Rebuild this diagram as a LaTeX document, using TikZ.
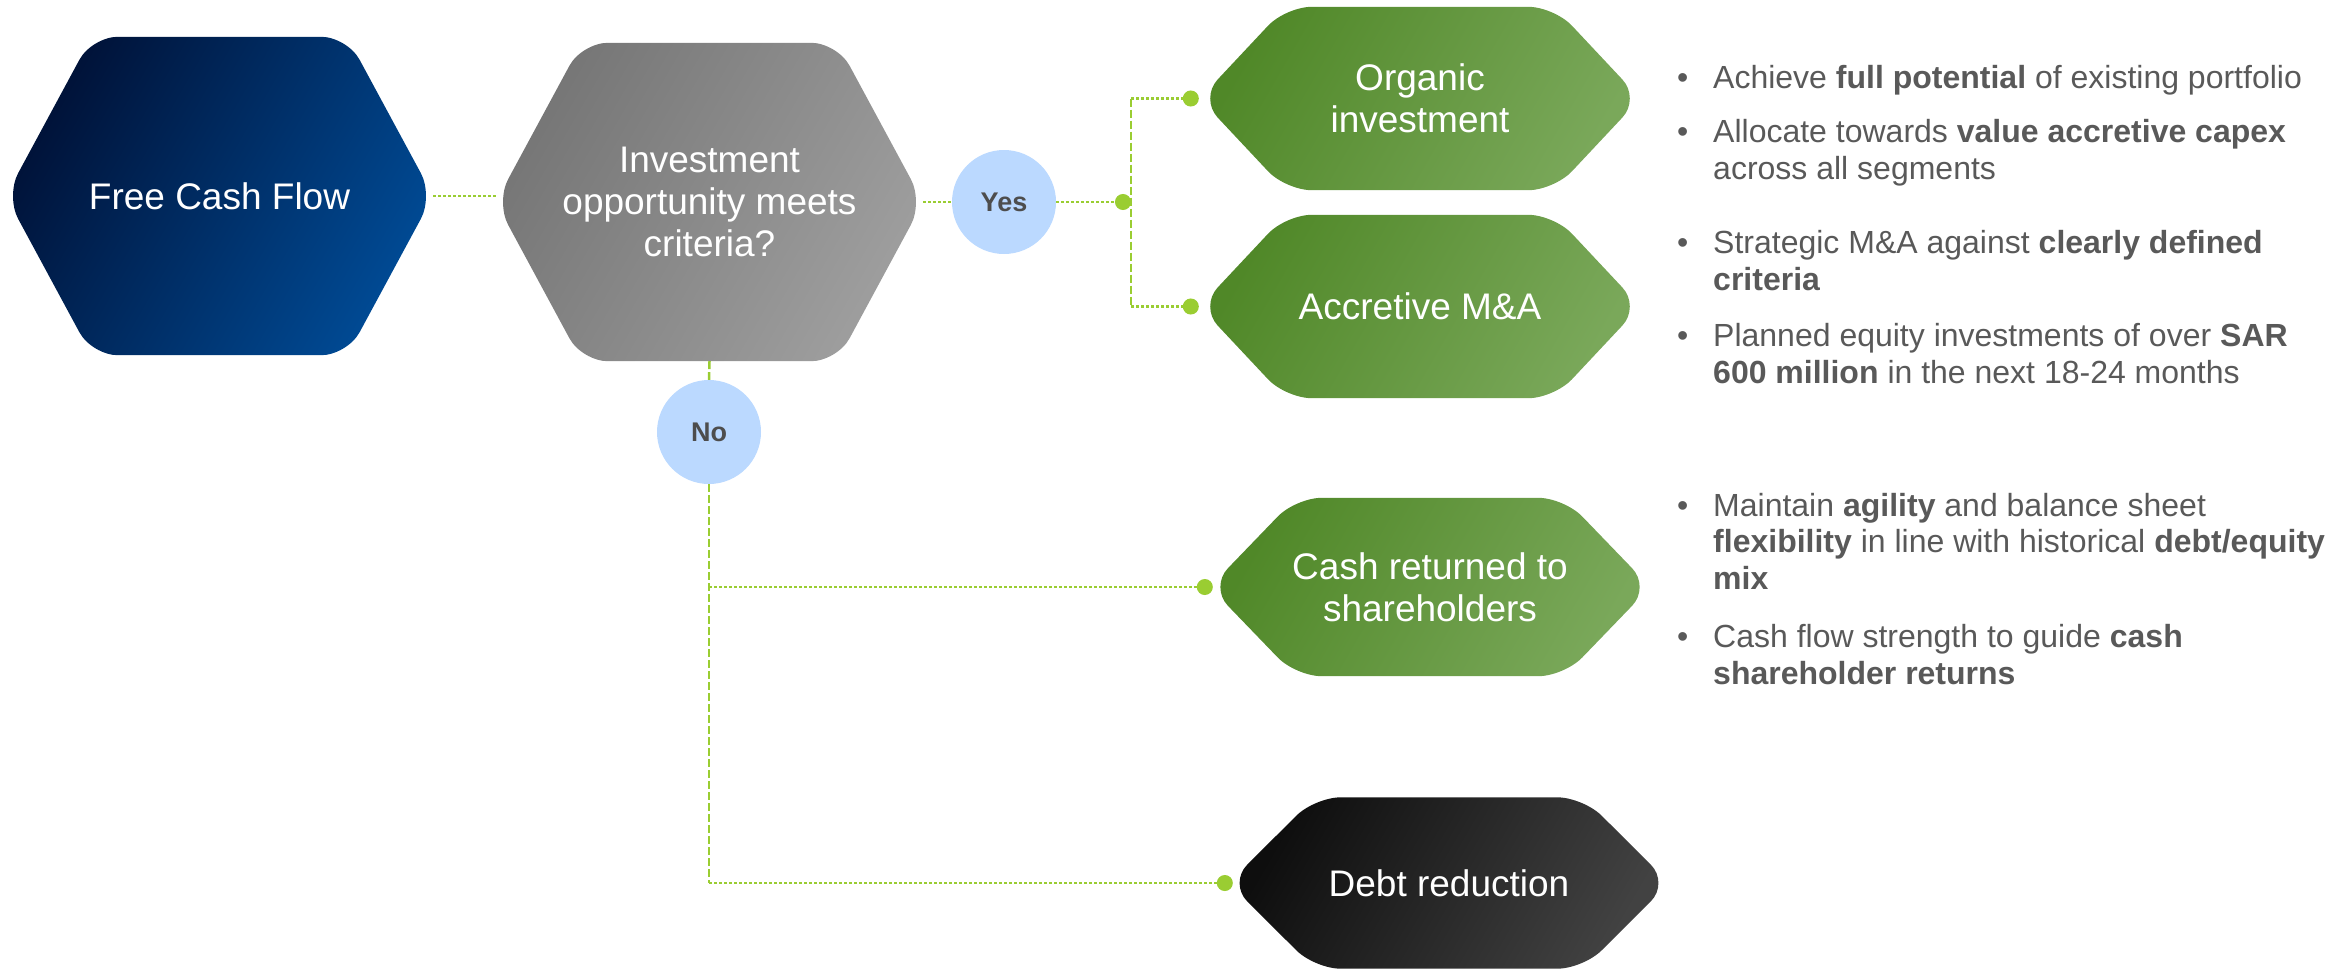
\documentclass[tikz,border=0pt]{standalone}
\usepackage{fontspec}
\setmainfont{Liberation Sans}
\usetikzlibrary{positioning,arrows.meta,backgrounds}

\definecolor{navyA}{RGB}{0,18,56}
\definecolor{navyB}{RGB}{0,74,148}
\definecolor{greyA}{RGB}{118,118,118}
\definecolor{greyB}{RGB}{158,158,158}
\definecolor{greenA}{RGB}{80,136,40}
\definecolor{greenB}{RGB}{122,168,90}
\definecolor{blackA}{RGB}{14,14,14}
\definecolor{blackB}{RGB}{66,66,66}
\definecolor{lineGreen}{RGB}{154,205,50}
\definecolor{bubble}{RGB}{187,217,255}
\definecolor{txtGrey}{RGB}{89,89,89}
\definecolor{yesnoGrey}{RGB}{77,77,77}

\begin{document}
\begin{tikzpicture}[
    x=1pt, y=-1pt,
    hex_box/.style={
        inner sep=0pt, align=center, text=white,
        minimum width=440pt, font=\fontsize{37}{42}\selectfont
    },
    yes_no/.style={
        circle, fill=bubble, inner sep=0pt, minimum size=104pt,
        text=yesnoGrey, font=\fontsize{27}{30}\selectfont\bfseries
    },
    dot_line/.style={
        lineGreen, line width=2.5pt, dash pattern=on 3pt off 2pt
    },
    dash_line/.style={
        lineGreen, line width=2.5pt, dash pattern=on 8pt off 3pt
    },
    dot_end/.style={
        -{Circle[length=16pt,width=16pt]}
    },
    bullet_txt/.style={
        anchor=base west, align=left, inner sep=0pt, text=txtGrey,
        font=\fontsize{32}{36.5}\selectfont
    }
]
    \useasboundingbox (0,0) rectangle (2349,970);

    % hexagons
    \node[hex_box, minimum width=427pt, minimum height=318pt] at (219.5,196) (fcf) {Free Cash Flow};
    \node[hex_box, minimum width=427pt, minimum height=318pt] at (709.5,202) (crit) {Investment\\opportunity meets\\criteria?};
    \node[hex_box, minimum height=183pt] at (1420,98.5) (org) {Organic\\investment};
    \node[hex_box, minimum height=183pt] at (1420,306.5) (acc) {Accretive M\&A};
    \node[hex_box, minimum height=178pt] at (1430,587) (cash) {Cash returned to\\shareholders};
    \node[hex_box, minimum height=171pt] at (1449,883) (debt) {Debt reduction};

    \begin{scope}[on background layer]
    \foreach \n/\c/\d in {fcf/navyA/navyB, crit/greyA/greyB, org/greenA/greenB,
                          acc/greenA/greenB, cash/greenA/greenB, debt/blackA/blackB}
        \shade[top color=\c, bottom color=\d, shading angle=60, rounded corners=26pt]
            (\n.north) -- ([xshift=-86pt]\n.north east) -- (\n.east)
            -- ([xshift=-86pt]\n.south east) -- ([xshift=86pt]\n.south west)
            -- (\n.west) -- ([xshift=86pt]\n.north west) -- cycle;
    \end{scope}

    % decision bubbles
    \node[yes_no] at (1004,202) (yes) {Yes};
    \node[yes_no] at (709,432) (no) {No};
    \coordinate (jn) at (1131,202);

    \draw[dot_line] (fcf.east) -- (fcf.east -| crit.west);
    \draw[dot_line] (crit.east) -- (yes.west);
    \draw[dot_line, dot_end] (yes.east) -- (jn);
    \draw[dash_line] (jn |- org.west) -- (jn |- acc.west);
    \draw[dot_line, dot_end] (jn |- org.west) -- ([xshift=-1pt]org.west);
    \draw[dot_line, dot_end] (jn |- acc.west) -- ([xshift=-1pt]acc.west);

    \draw[dash_line] (crit.south) -- (no.north);
    \draw[dash_line] (no.south) -- (no.south |- debt.west);
    \draw[dot_line, dot_end] (no.south |- cash.west) -- ([xshift=3pt]cash.west);
    \draw[dot_line, dot_end] (no.south |- debt.west) -- ([xshift=4pt]debt.west);

    % bullet points (base = last line)
    \node[bullet_txt] at (1713,88) (b1) {\llap{\textbullet\hspace{25pt}}Achieve \textbf{full potential} of existing portfolio};
    \node[bullet_txt] at (1713,179) (b2) {\llap{\textbullet\hspace{25pt}}Allocate towards \textbf{value accretive capex}\\across all segments};
    \node[bullet_txt] at (1713,290) (b3) {\llap{\textbullet\hspace{25pt}}Strategic M\&A against \textbf{clearly defined}\\\textbf{criteria}};
    \node[bullet_txt] at (1713,383) (b4) {\llap{\textbullet\hspace{25pt}}Planned equity investments of over \textbf{SAR}\\\textbf{600 million} in the next 18-24 months};
    \node[bullet_txt] at (1713,589) (b5) {\llap{\textbullet\hspace{25pt}}Maintain \textbf{agility} and balance sheet\\\textbf{flexibility} in line with historical \textbf{debt/equity}\\\textbf{mix}};
    \node[bullet_txt] at (1713,684) (b6) {\llap{\textbullet\hspace{25pt}}Cash flow strength to guide \textbf{cash}\\\textbf{shareholder returns}};
\end{tikzpicture}
\end{document}
